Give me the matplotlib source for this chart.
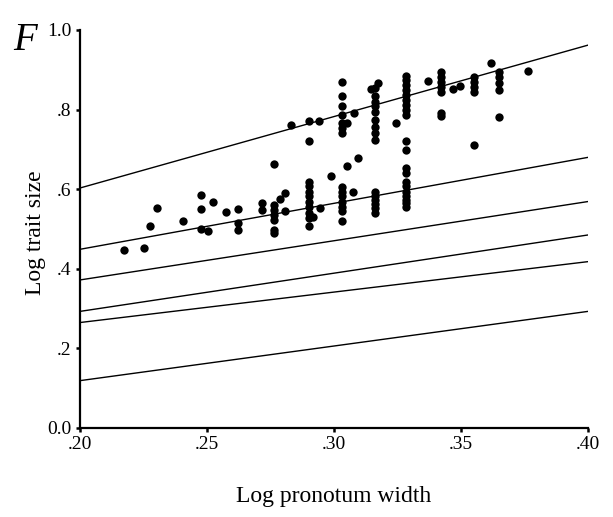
import numpy as np
import matplotlib
matplotlib.use("Agg")
import matplotlib.pyplot as plt

plt.rcParams['font.family'] = ['Liberation Serif', 'DejaVu Serif']

# scatter points (log pronotum width, log trait size)
low_x = [.2174, .2250, .2277, .2303, .2404, .2478, .2478, .2478, .2504, .2524,
         .2576, .2624, .2624, .2624, .2717, .2717, .2765,
         .2765, .2765, .2765, .2765, .2765, .2765, .2786, .2806, .2806,
         .2900, .2900, .2900, .2900, .2900, .2900, .2900, .2900, .2900,
         .2919, .2945, .2988,
         .3030, .3030, .3030, .3030, .3030, .3030, .3030,
         .3052, .3075, .3094,
         .3160, .3160, .3160, .3160, .3160, .3160,
         .3285, .3285, .3285, .3285, .3285, .3285, .3285, .3285, .3285, .3285, .3285]
low_y = [.448, .452, .508, .552, .521, .586, .550, .500, .496, .567,
         .542, .550, .516, .498, .565, .548, .664,
         .561, .548, .536, .523, .498, .490, .575, .590, .546,
         .619, .607, .594, .582, .569, .556, .540, .527, .508,
         .531, .552, .632,
         .605, .592, .582, .569, .556, .546, .519,
         .659, .592, .679,
         .592, .582, .573, .563, .552, .541,
         .653, .640, .619, .607, .592, .582, .573, .565, .556, .720, .699]

high_x = [.2831, .2900, .2940, .2900,
          .3030, .3030, .3030, .3030, .3030, .3030, .3030, .3052, .3080,
          .3160, .3160, .3160, .3160, .3160, .3160, .3160, .3160, .3160, .3144, .3172,
          .3244,
          .3285, .3285, .3285, .3285, .3285, .3285, .3285, .3285, .3285,
          .3372, .3420, .3420, .3420, .3420, .3420, .3420, .3420, .3467, .3498,
          .3550, .3550, .3550, .3550, .3550, .3617,
          .3650, .3650, .3650, .3650, .3650, .3762]
high_y = [.761, .772, .772, .720,
          .870, .833, .808, .787, .766, .753, .742, .766, .791,
          .854, .833, .820, .808, .795, .774, .757, .741, .724, .851, .868,
          .766,
          .885, .874, .862, .849, .837, .824, .812, .799, .787,
          .872, .895, .883, .870, .858, .845, .791, .784, .851, .859,
          .883, .870, .858, .845, .710, .916,
          .895, .881, .866, .848, .782, .897]

# fitted lines: value at x=.20 and x=.40
line_x = [0.20, 0.40]
line_starts = [0.603, 0.449, 0.372, 0.293, 0.265, 0.119]
line_ends = [0.962, 0.680, 0.569, 0.485, 0.418, 0.293]

fig = plt.figure(figsize=(6.13, 5.17), dpi=100)
ax = fig.add_axes([80/613, 1 - 428/517, (588-80)/613, (428-30)/517])

for y0, y1 in zip(line_starts, line_ends):
    ax.plot(line_x, [y0, y1], color='black', lw=1.0)

ax.scatter(low_x + high_x, low_y + high_y, s=36, color='black', zorder=3, linewidths=0)

ax.set_xlim(0.20, 0.40)
ax.set_ylim(0.0, 1.0)
ax.set_xticks([0.20, 0.25, 0.30, 0.35, 0.40])
ax.set_xticklabels(['.20', '.25', '.30', '.35', '.40'])
ax.set_yticks([0.0, 0.2, 0.4, 0.6, 0.8, 1.0])
ax.set_yticklabels(['0.0', '.2', '.4', '.6', '.8', '1.0'])
ax.tick_params(direction='out', length=3, width=1.8, labelsize=14, pad=3)

for s in ['top', 'right']:
    ax.spines[s].set_visible(False)
for s in ['left', 'bottom']:
    ax.spines[s].set_linewidth(1.6)

ax.set_xlabel('Log pronotum width', fontsize=17)
ax.set_ylabel('Log trait size', fontsize=17)
ax.xaxis.set_label_coords(0.5, -(486 - 428) / 398)
ax.yaxis.set_label_coords(-(80 - 46) / 508, (428 - 233) / 398)

fig.text(13/613, 1 - 50/517, 'F', fontsize=28, style='italic', ha='left', va='baseline')

fig.savefig('out.png', dpi=100)
